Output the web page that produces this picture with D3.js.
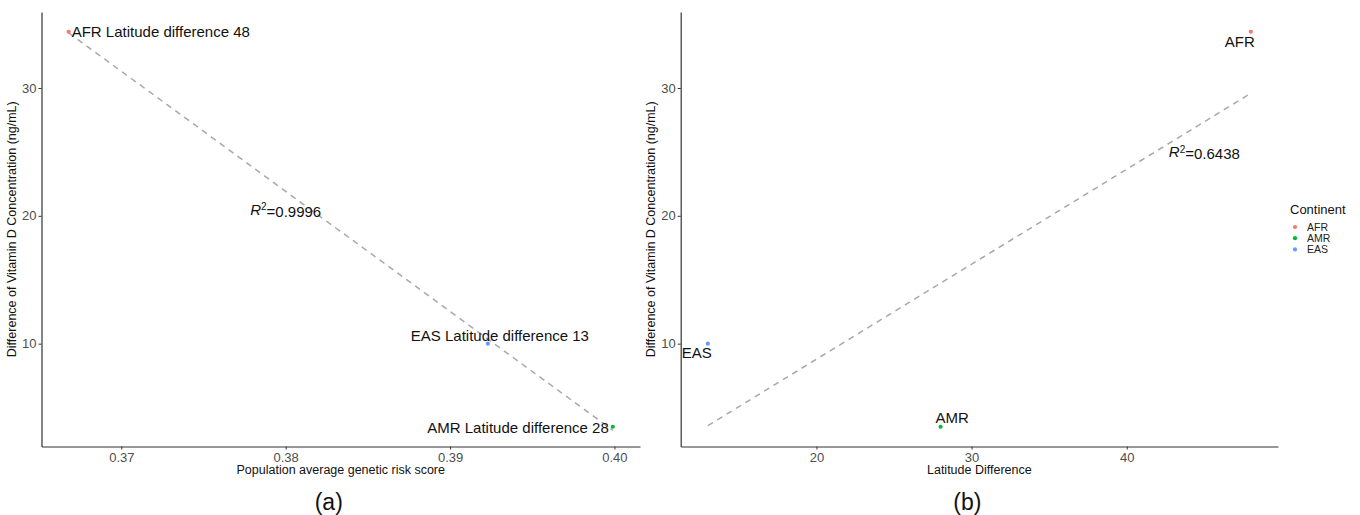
<!DOCTYPE html>
<html><head><meta charset="utf-8">
<script src="https://cdn.jsdelivr.net/npm/d3@7"></script>
<style>body{margin:0;background:#fff}svg{display:block;font-family:"Liberation Sans",Arial,sans-serif}</style>
</head><body><svg id="c" width="1360" height="515"></svg>
<script>
// ---- data ----
const continents = ["AFR", "AMR", "EAS"];
const colors = ["#F8766D", "#00BA38", "#619CFF"];
const vitDDiff = [34.4, 3.5, 10.0];          // Difference of Vitamin D concentration (ng/mL)
const grsAvg = [0.3668, 0.3999, 0.3923];     // population average genetic risk score
const latDiff = [48, 28, 13];                 // latitude difference
const labelsA = ["AFR Latitude difference 48", "AMR Latitude difference 28", "EAS Latitude difference 13"];
const labelsB = ["AFR", "AMR", "EAS"];
const xTicksA = [0.37, 0.38, 0.39, 0.40];
const xTicksB = [20, 30, 40];
const yTicks = [10, 20, 30];
const r2A = "0.9996", r2B = "0.6438";
const r2PosA = [0.38, 20.5], r2PosB = [45, 25];

const svg = d3.select("#c");
svg.append("rect").attr("width",1360).attr("height",515).attr("fill","#fff");

function expand(arr){const lo=d3.min(arr),hi=d3.max(arr),s=hi-lo;return [lo-0.05*s,hi+0.05*s];}
function lm(xs,ys){const mx=d3.mean(xs),my=d3.mean(ys);let sxy=0,sxx=0;xs.forEach((x,i)=>{sxy+=(x-mx)*(ys[i]-my);sxx+=(x-mx)**2;});const b=sxy/sxx;return x=>my+b*(x-mx);}

const plotTop=12,plotBottom=446.5;
const y = d3.scaleLinear().domain(expand(vitDDiff)).range([plotBottom, plotTop]);

function panel(xs, left, right, xTicks, fmt, xTitle, tag, labels, labelPos, r2, r2Pos){
  const x = d3.scaleLinear().domain(expand(xs)).range([left,right]);
  const g = svg.append("g");
  // regression line
  const f = lm(xs, vitDDiff);
  const x0=d3.min(xs), x1=d3.max(xs);
  g.append("line").attr("x1",x(x0)).attr("y1",y(f(x0))).attr("x2",x(x1)).attr("y2",y(f(x1)))
    .attr("stroke","#a8a8a8").attr("stroke-width",1.5).attr("stroke-dasharray","6,5");
  // axes
  const xa = g.append("g").attr("transform",`translate(0,${plotBottom})`)
    .call(d3.axisBottom(x).tickValues(xTicks).tickFormat(fmt).tickSize(3).tickSizeOuter(0));
  const ya = g.append("g").attr("transform",`translate(${left},0)`)
    .call(d3.axisLeft(y).tickValues(yTicks).tickSize(3).tickSizeOuter(0));
  [xa,ya].forEach(a=>{
    a.select(".domain").attr("stroke","#333").attr("stroke-width",1.2);
    a.selectAll(".tick line").attr("stroke","#333");
    a.selectAll(".tick text").attr("fill","#4d4d4d").style("font-size","13px").style("font-family","Liberation Sans, Arial, sans-serif");
  });
  ya.selectAll(".tick text").attr("x",-5);
  // points
  g.selectAll("circle.p").data(xs).join("circle").attr("class","p")
    .attr("cx",(d)=>x(d)).attr("cy",(d,i)=>y(vitDDiff[i])).attr("r",2.1).attr("fill",(d,i)=>colors[i]);
  // labels
  g.selectAll("text.lab").data(xs).join("text").attr("class","lab")
    .attr("x",(d,i)=>x(d)+labelPos[i][0]).attr("y",(d,i)=>y(vitDDiff[i])+labelPos[i][1])
    .attr("text-anchor",(d,i)=>labelPos[i][2]).style("font-size","15px").attr("fill","#111")
    .text((d,i)=>labels[i]);
  // R2 annotation
  const t = g.append("text").attr("x",x(r2Pos[0])).attr("y",y(r2Pos[1])).attr("dy","0.35em")
    .attr("text-anchor","middle").style("font-size","15px").attr("fill","#111");
  t.append("tspan").style("font-style","italic").text("R");
  t.append("tspan").attr("dy","-0.45em").style("font-size","10px").text("2");
  t.append("tspan").attr("dy","0.45em").text("="+r2);
  // axis titles
  g.append("text").attr("x",(left+right)/2).attr("y",474).attr("text-anchor","middle")
    .style("font-size","12.5px").attr("fill","#111").text(xTitle);
  g.append("text").attr("transform",`translate(${left-26},${(plotTop+plotBottom)/2}) rotate(-90)`)
    .attr("text-anchor","middle").style("font-size","12.5px").attr("fill","#111")
    .text("Difference of Vitamin D Concentration (ng/mL)");
  g.append("text").attr("x",(left+right)/2-12).attr("y",510).attr("text-anchor","middle")
    .style("font-size","23px").attr("fill","#111").text(tag);
}

// label offsets: [dx, dy, anchor] in order AFR, AMR, EAS
panel(grsAvg, 41.5, 640, xTicksA, d3.format(".2f"), "Population average genetic risk score", "(a)", labelsA,
  [[3,5,"start"],[-4,6,"end"],[12,-3,"middle"]], r2A, r2PosA);
panel(latDiff, 680.7, 1278, xTicksB, d3.format("d"), "Latitude Difference", "(b)", labelsB,
  [[4,15,"end"],[-5,-4,"start"],[4,14,"end"]], r2B, r2PosB);

// legend
const lg = svg.append("g");
lg.append("text").attr("x",1290).attr("y",214).style("font-size","13px").attr("fill","#111").text("Continent");
continents.forEach((c,i)=>{
  const yy = 227 + i*11.2;
  lg.append("circle").attr("cx",1295).attr("cy",yy).attr("r",2.1).attr("fill",colors[i]);
  lg.append("text").attr("x",1307).attr("y",yy).attr("dy","0.35em").style("font-size","10.5px").attr("fill","#222").text(c);
});
</script></body></html>
